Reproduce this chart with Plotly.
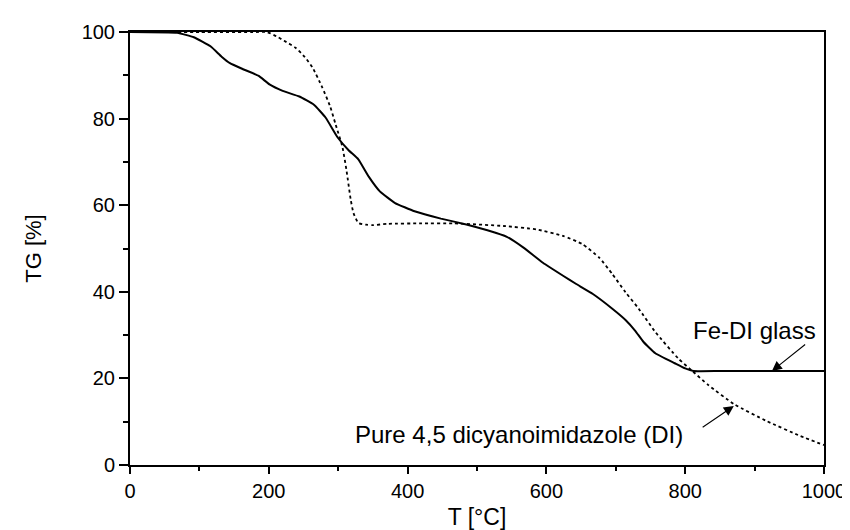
import plotly.graph_objects as go

# Fe-DI glass (solid)
fe_T = [0, 68, 92, 116, 132, 144, 163, 185, 201, 220, 244, 265, 282, 299, 315, 329, 344,
        360, 382, 410, 448, 486, 515, 543, 567, 595, 624, 643, 667, 695, 714, 728, 740,
        757, 785, 800, 812, 850, 900, 950, 1000]
fe_TG = [100, 99.8, 98.8, 96.7, 94.3, 92.8, 91.4, 89.9, 87.9, 86.4, 85.1, 83.2, 80.2, 75.7,
         72.7, 70.6, 66.6, 63.2, 60.5, 58.6, 56.9, 55.5, 54.2, 52.7, 50.2, 46.7, 43.7, 41.8,
         39.5, 36.1, 33.5, 31.0, 28.4, 25.8, 23.5, 22.3, 21.7, 21.7, 21.7, 21.7, 21.7]

# Pure 4,5 dicyanoimidazole (dotted)
di_T = [0, 100, 182, 197, 211, 222, 239, 252, 263, 277, 288, 296, 306, 312, 318, 322, 329,
        340, 349, 372, 420, 467, 538, 586, 624, 652, 676, 695, 714, 733, 757, 790, 811,
        833, 871, 918, 966, 1000]
di_TG = [100, 100, 100, 100, 99.0, 98.0, 96.3, 94.2, 91.8, 87.2, 83.0, 78.8, 73.5, 68.0,
         61.3, 58.2, 55.9, 55.5, 55.4, 55.7, 55.8, 55.8, 55.2, 54.4, 52.9, 51.0, 47.9, 44.1,
         39.9, 36.1, 30.7, 24.6, 21.6, 18.5, 14.0, 10.1, 6.7, 4.6]

x_ticks = [0, 200, 400, 600, 800, 1000]
y_ticks = [0, 20, 40, 60, 80, 100]

FONT = "Liberation Sans, Arial, Helvetica, sans-serif"

fig = go.Figure()
fig.add_trace(go.Scatter(x=fe_T, y=fe_TG, mode="lines",
                         line=dict(color="black", width=2, shape="spline", smoothing=0.4),
                         name="Fe-DI glass", showlegend=False))
fig.add_trace(go.Scatter(x=di_T, y=di_TG, mode="lines",
                         line=dict(color="black", width=1.8, dash="dot", shape="spline", smoothing=0.5),
                         name="Pure 4,5 dicyanoimidazole (DI)", showlegend=False))

fig.add_annotation(x=925, y=21.7, ax=975, ay=28.1, xref="x", yref="y", axref="x", ayref="y",
                   showarrow=True, arrowhead=2, arrowsize=1.8, arrowwidth=1.1, arrowcolor="black", text="")
fig.add_annotation(x=900, y=31.1, xref="x", yref="y", text="Fe-DI glass", showarrow=False,
                   font=dict(family=FONT, size=24, color="black"))
fig.add_annotation(x=870, y=13.6, ax=823, ay=8.5, xref="x", yref="y", axref="x", ayref="y",
                   showarrow=True, arrowhead=2, arrowsize=1.8, arrowwidth=1.1, arrowcolor="black", text="")
fig.add_annotation(x=560, y=7.1, xref="x", yref="y", text="Pure 4,5 dicyanoimidazole (DI)", showarrow=False,
                   font=dict(family=FONT, size=24, color="black"))

fig.update_xaxes(range=[0, 1000], tickvals=x_ticks, ticktext=[str(v) for v in x_ticks],
                 showgrid=False, zeroline=False, showline=True, linecolor="black", linewidth=2,
                 mirror=True, ticks="outside", ticklen=7, tickwidth=2, tickcolor="black",
                 minor=dict(dtick=100, ticks="outside", ticklen=4, tickwidth=2, tickcolor="black"),
                 tickfont=dict(family=FONT, size=20, color="black"),
                 title=dict(text="T [°C]", font=dict(family=FONT, size=23, color="black"), standoff=8))
fig.update_yaxes(range=[0, 100], tickvals=y_ticks, ticktext=[str(v) for v in y_ticks],
                 showgrid=False, zeroline=False, showline=True, linecolor="black", linewidth=2,
                 mirror=True, ticks="outside", ticklen=9, tickwidth=2, tickcolor="black",
                 minor=dict(dtick=10, ticks="outside", ticklen=5, tickwidth=2, tickcolor="black"),
                 tickfont=dict(family=FONT, size=20, color="black"),
                 title=dict(text="TG [%]", font=dict(family=FONT, size=22, color="black"), standoff=34))

fig.update_layout(width=850, height=530, margin=dict(l=122, r=26, t=24, b=69),
                  plot_bgcolor="white", paper_bgcolor="white", showlegend=False)

fig.write_html("out.html")
